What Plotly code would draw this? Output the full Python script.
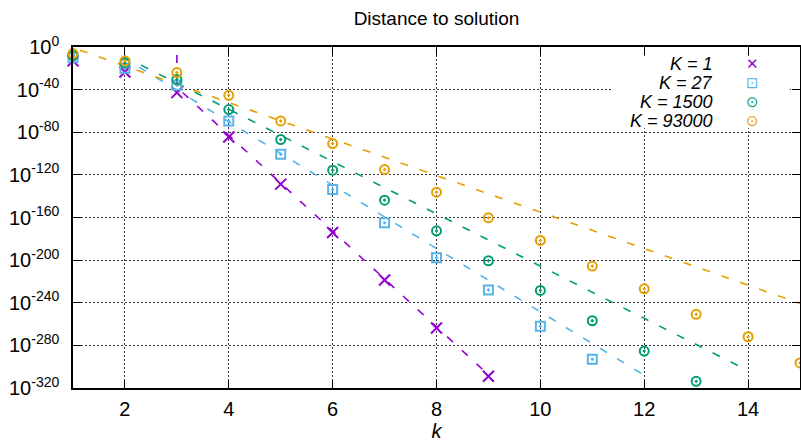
import plotly.graph_objects as go

# ---------------- data (log10 of distance to solution) -------------
series_names = ["K = 1", "K = 27", "K = 1500", "K = 93000"]
colors = ["#9400d3", "#56b4e9", "#009e73", "#e69f00"]

k_K1 = [1, 2, 3, 4, 5, 6, 7, 8, 9]
exp_K1 = [-13, -23.5, -42.8, -84.4, -128.7, -174, -218.7, -263.7, -309]

k_K27 = [1, 2, 3, 4, 5, 6, 7, 8, 9, 10, 11]
exp_K27 = [-10, -20, -35.9, -69.4, -100.6, -133.7, -165, -197.8, -228, -262.1, -293]

k_K1500 = [1, 2, 3, 4, 5, 6, 7, 8, 9, 10, 11, 12, 13]
exp_K1500 = [-8, -15, -30.6, -58.7, -86.8, -115.6, -143.7, -172.5, -200.6, -228.4,
             -256.9, -285.3, -313.7]

k_K93000 = [1, 2, 3, 4, 5, 6, 7, 8, 9, 10, 11, 12, 13, 14, 15]
exp_K93000 = [-6.2, -13.1, -24, -45.3, -69.4, -90.6, -115, -136.2, -160.3, -181.5,
              -205.6, -226.9, -250.9, -271.9, -296.5]

# reference (bound) lines: they rise vertically off the top at the start k,
# then fall straight (in log scale) to the end k
bound_k_start = [3, 2, 2, 1]
bound_exp_start = [-37.8, -10.8, -9.4, -0.7]
bound_k_end = [9, 12, 14, 15]
bound_exp_end = [-307.6, -308, -303.7, -240.6]
bound_exp_offtop = 30

y_tick_exps = [0, -40, -80, -120, -160, -200, -240, -280, -320]
x_tick_vals = [2, 4, 6, 8, 10, 12, 14]

# ------------------------------------------------------------------------------------------
ks = [k_K1, k_K27, k_K1500, k_K93000]
exps = [exp_K1, exp_K27, exp_K1500, exp_K93000]
symbols = ["x-thin", "square-open-dot", "circle-open-dot", "circle-open-dot"]
sizes = [11, 9, 9, 9]
legend_glyphs = ["\u2715", "\u22a1", "\u2299", "\u2299"]

fig = go.Figure()

# dashed bound lines (drawn first)
for i in range(4):
    xs = [bound_k_start[i], bound_k_start[i], bound_k_end[i]]
    ys = [10.0 ** bound_exp_offtop, 10.0 ** bound_exp_start[i], 10.0 ** bound_exp_end[i]]
    fig.add_trace(go.Scatter(
        x=xs, y=ys, mode="lines", showlegend=False, hoverinfo="skip",
        line=dict(color=colors[i], width=1.6, dash="8px,12px"),
    ))

# data points
for i in range(4):
    fig.add_trace(go.Scatter(
        x=ks[i], y=[10.0 ** e for e in exps[i]], mode="markers", name=series_names[i],
        showlegend=False, cliponaxis=False,
        marker=dict(symbol=symbols[i], size=sizes[i], color=colors[i],
                    line=dict(color=colors[i], width=2)),
    ))

font_family = "Liberation Sans, Arial, sans-serif"
grid_style = dict(showgrid=True, gridcolor="#333333", gridwidth=1, griddash="2px,2px")

fig.update_layout(
    template="none",
    width=801, height=444,
    margin=dict(l=73, r=1, t=47, b=56, autoexpand=False),
    paper_bgcolor="white", plot_bgcolor="white",
    font=dict(family=font_family, size=20, color="black"),
    title=dict(text="Distance to solution", x=0.545, xanchor="center",
               y=1 - 18 / 444, yanchor="middle", font=dict(size=19)),
    showlegend=False,
    xaxis=dict(
        range=[1, 15], tickvals=x_tick_vals, ticks="inside", ticklen=8, tickwidth=1,
        tickcolor="black", mirror="allticks", showline=True, linecolor="black", linewidth=1.5,
        zeroline=False, title=dict(text="<i>k</i>", standoff=2, font=dict(size=20)),
        ticklabelstandoff=2, automargin=False, **grid_style,
    ),
    yaxis=dict(
        type="log", range=[-320, 0],
        tickvals=[10.0 ** e for e in y_tick_exps],
        ticktext=["10<sup>%d</sup>" % e for e in y_tick_exps],
        ticks="inside", ticklen=8, tickwidth=1, tickcolor="black", mirror="allticks",
        showline=True, linecolor="black", linewidth=1.5,
        zeroline=False, ticklabelstandoff=8, automargin=False, **grid_style,
    ),
)

# opaque key box (covers grid like gnuplot's key)
fig.add_shape(type="rect", xref="paper", yref="paper", x0=0.743, x1=0.986, y0=0.762, y1=0.974,
              fillcolor="white", line=dict(width=0), layer="above")

row_y = [0.949, 0.8935, 0.838, 0.784]
for i in range(4):
    fig.add_annotation(xref="paper", yref="paper", x=0.883, y=row_y[i], xanchor="right",
                       yanchor="middle", showarrow=False, text="<i>%s</i>" % series_names[i],
                       font=dict(size=18, family=font_family))
    fig.add_annotation(xref="paper", yref="paper", x=0.934, y=row_y[i], xanchor="center",
                       yanchor="middle", showarrow=False, text=legend_glyphs[i],
                       font=dict(size=15, family="DejaVu Sans", color=colors[i]))

fig.write_html(
    "out.html",
    config={"displayModeBar": False},
    post_script="document.body.style.margin='0';document.body.style.overflow='hidden';",
)
